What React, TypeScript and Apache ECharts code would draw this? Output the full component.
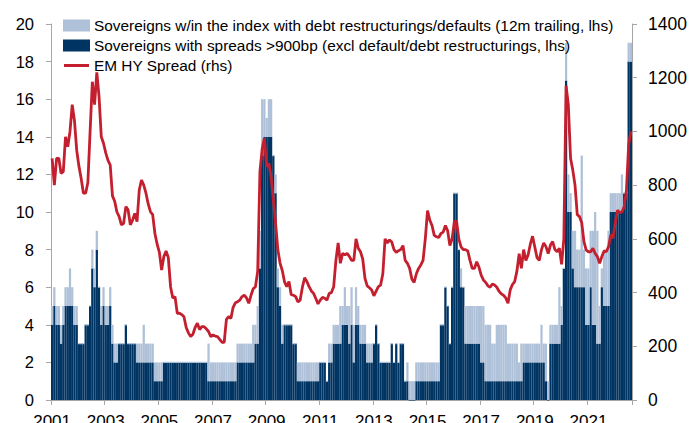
import React, { useEffect, useRef } from "react";
import * as echarts from "echarts";

// Monthly data, Jan 2001 – Aug 2022
const startYear = 2001;

// Sovereigns with spreads >900bp (excl default/debt restructurings), lhs
const spread900Count: number[] = [
  4, 5, 4, 4, 3, 4, 5, 5, 5, 5, 4, 4, // 2001
  3, 3, 3, 4, 4, 5, 7, 6, 8, 6, 4, 5, // 2002
  4, 4, 5, 3, 2, 2, 3, 3, 3, 4, 3, 3, // 2003
  3, 3, 2, 2, 2, 2, 2, 2, 2, 2, 1, 1, // 2004
  1, 1, 2, 2, 2, 2, 2, 2, 2, 2, 2, 2, // 2005
  2, 2, 2, 2, 2, 2, 2, 2, 2, 2, 1, 1, // 2006
  1, 1, 1, 1, 1, 1, 1, 1, 1, 1, 1, 2, // 2007
  2, 2, 2, 2, 2, 2, 2, 3, 3, 7, 13, 14, // 2008
  14, 14, 14, 13, 11, 6, 5, 3, 4, 4, 4, 4, // 2009
  3, 3, 1, 1, 1, 1, 1, 1, 1, 1, 1, 1, // 2010
  2, 2, 2, 1, 2, 2, 3, 3, 3, 3, 4, 4, // 2011
  4, 3, 4, 2, 4, 4, 3, 3, 3, 2, 2, 2, // 2012
  3, 4, 3, 2, 2, 2, 2, 2, 3, 2, 3, 2, // 2013
  3, 3, 1, 1, 0, 0, 0, 1, 1, 1, 1, 1, // 2014
  1, 1, 1, 1, 1, 1, 4, 4, 6, 5, 3, 6, // 2015
  11, 11, 8, 6, 6, 3, 3, 3, 3, 3, 3, 3, // 2016
  2, 2, 1, 1, 1, 1, 1, 1, 1, 1, 1, 1, // 2017
  1, 1, 1, 1, 1, 1, 1, 2, 2, 2, 2, 2, // 2018
  2, 2, 2, 2, 2, 1, 0, 3, 3, 3, 3, 3, // 2019
  4, 7, 17, 10, 10, 7, 6, 6, 6, 6, 6, 4, // 2020
  4, 6, 4, 4, 3, 3, 6, 5, 5, 5, 10, 10, // 2021
  10, 10, 10, 10, 11, 11, 18, 18, // 2022
];

// Sovereigns w/in the index with debt restructurings/defaults (12m trailing), stacked on top, lhs
const defaultCount: number[] = [
  1, 1, 1, 1, 1, 1, 1, 1, 2, 1, 1, 1, // 2001
  0, 0, 0, 0, 0, 0, 1, 1, 1, 0, 1, 1, // 2002
  1, 1, 1, 1, 1, 1, 0, 0, 0, 0, 0, 0, // 2003
  0, 0, 1, 1, 1, 2, 1, 1, 1, 1, 1, 1, // 2004
  1, 1, 0, 0, 0, 0, 0, 0, 0, 0, 0, 0, // 2005
  0, 0, 0, 0, 0, 0, 0, 0, 0, 0, 2, 1, // 2006
  1, 1, 1, 1, 1, 1, 1, 1, 1, 1, 1, 1, // 2007
  1, 1, 1, 1, 1, 1, 2, 1, 2, 2, 3, 2, // 2008
  1, 2, 2, 0, 1, 1, 1, 1, 0, 0, 0, 0, // 2009
  0, 0, 1, 1, 1, 1, 1, 1, 1, 1, 1, 1, // 2010
  0, 0, 0, 0, 1, 1, 1, 1, 1, 2, 1, 2, // 2011
  1, 2, 2, 2, 2, 1, 1, 1, 1, 1, 1, 1, // 2012
  0, 0, 0, 0, 0, 0, 0, 0, 0, 0, 0, 0, // 2013
  0, 0, 0, 1, 1, 1, 1, 1, 1, 1, 1, 1, // 2014
  1, 1, 1, 1, 1, 1, 0, 0, 0, 0, 0, 0, // 2015
  0, 0, 0, 1, 0, 2, 2, 2, 2, 2, 2, 2, // 2016
  3, 3, 3, 3, 3, 2, 2, 3, 3, 3, 3, 3, // 2017
  2, 2, 2, 2, 2, 1, 2, 1, 1, 1, 1, 1, // 2018
  1, 1, 1, 2, 1, 2, 1, 1, 1, 1, 1, 3, // 2019
  1, 0, 2, 2, 1, 2, 3, 2, 2, 7, 2, 3, // 2020
  3, 3, 5, 6, 6, 2, 1, 3, 3, 4, 1, 1, // 2021
  1, 1, 1, 2, 0, 0, 1, 1, // 2022
];

// EM HY spread (bp), rhs
const emHySpread: number[] = [
  900, 800, 900, 900, 844, 850, 980, 943, 1000, 1100, 1040, 930, // 2001
  870, 825, 770, 770, 810, 1000, 1185, 1100, 1220, 1130, 980, 956, // 2002
  920, 892, 875, 760, 740, 700, 683, 652, 658, 720, 708, 652, // 2003
  670, 695, 664, 782, 819, 800, 770, 730, 701, 690, 620, 580, // 2004
  550, 484, 534, 555, 530, 422, 380, 385, 323, 323, 318, 310, // 2005
  270, 250, 236, 245, 270, 286, 262, 273, 273, 265, 255, 236, // 2006
  242, 238, 236, 226, 215, 215, 300, 310, 304, 345, 362, 366, // 2007
  372, 385, 390, 380, 360, 390, 414, 422, 480, 850, 935, 975, // 2008
  869, 881, 830, 745, 660, 560, 510, 482, 440, 422, 441, 392, // 2009
  390, 385, 365, 372, 420, 455, 441, 422, 406, 397, 378, 358, // 2010
  372, 382, 379, 372, 397, 400, 422, 520, 585, 509, 546, 540, // 2011
  546, 535, 520, 520, 600, 565, 552, 525, 453, 425, 418, 410, // 2012
  388, 405, 422, 428, 470, 600, 585, 596, 588, 560, 550, 556, // 2013
  560, 575, 520, 509, 490, 450, 438, 470, 490, 503, 520, 600, // 2014
  705, 670, 650, 613, 608, 605, 620, 625, 650, 630, 575, 600, // 2015
  665, 665, 600, 570, 560, 560, 555, 520, 490, 490, 515, 495, // 2016
  465, 447, 438, 425, 420, 432, 428, 420, 405, 395, 390, 380, // 2017
  360, 410, 430, 441, 480, 545, 490, 560, 520, 540, 580, 610, // 2018
  570, 530, 520, 560, 585, 571, 545, 577, 590, 560, 552, 565, // 2019
  505, 600, 1170, 1100, 900, 856, 800, 690, 683, 660, 590, 558, // 2020
  552, 552, 565, 546, 534, 509, 534, 555, 552, 571, 615, 602, // 2021
  660, 707, 698, 700, 720, 780, 950, 1000, // 2022
];

const seriesNames = [
  "Sovereigns w/in the index with debt restructurings/defaults (12m trailing, lhs)",
  "Sovereigns with spreads >900bp (excl default/debt restructurings, lhs)",
  "EM HY Spread (rhs)",
];

const months: string[] = emHySpread.map((_, i) => {
  const y = startYear + Math.floor(i / 12);
  const m = (i % 12) + 1;
  return `${y}-${m < 10 ? "0" + m : m}`;
});

const LIGHT = "#afc1d8";
const DARK = "#003462";
const RED = "#c41f2e";
const AXIS = "#a6a6a6";
const FONT = "'Liberation Sans', Arial, sans-serif";

export default function App() {
  const ref = useRef<HTMLDivElement>(null);
  useEffect(() => {
    document.body.style.margin = "0";
    if (!ref.current) return;
    const chart = echarts.init(ref.current, null, { renderer: "svg" });
    const every2y = (idx: number) => idx % 24 === 0;
    chart.setOption({
      animation: false,
      backgroundColor: "#ffffff",
      textStyle: { fontFamily: FONT },
      grid: {
        left: 51,
        right: 57,
        top: 24,
        bottom: 23,
        containLabel: false,
        outerBoundsMode: "none",
      },
      legend: {
        orient: "vertical",
        left: 58,
        top: 12,
        itemWidth: 25,
        itemHeight: 10,
        itemGap: 3,
        textStyle: { fontFamily: FONT, fontSize: 15.4, color: "#000", lineHeight: 17 },
        data: [
          { name: seriesNames[0], icon: "rect" },
          { name: seriesNames[1], icon: "rect" },
          { name: seriesNames[2], icon: "path://M0,0 H25 V3 H0 Z" },
        ],
      },
      xAxis: {
        type: "category",
        data: months,
        boundaryGap: true,
        axisLine: { lineStyle: { color: AXIS, width: 1 } },
        axisTick: { show: true, interval: every2y, length: 5, lineStyle: { color: AXIS } },
        axisLabel: {
          interval: every2y,
          formatter: (v: string) => v.slice(0, 4),
          fontSize: 17,
          color: "#000",
          fontFamily: FONT,
          margin: 13,
        },
        splitLine: { show: false },
      },
      yAxis: [
        {
          type: "value",
          min: 0,
          max: 20,
          interval: 2,
          axisLine: { show: true, lineStyle: { color: AXIS } },
          axisTick: { show: true, length: 5, lineStyle: { color: AXIS } },
          axisLabel: { fontSize: 16.5, color: "#000", fontFamily: FONT, margin: 17 },
          splitLine: { show: false },
        },
        {
          type: "value",
          min: 0,
          max: 1400,
          interval: 200,
          position: "right",
          axisLine: { show: true, lineStyle: { color: AXIS } },
          axisTick: { show: true, length: 5, lineStyle: { color: AXIS } },
          axisLabel: {
            fontSize: 17.5,
            color: "#000",
            fontFamily: FONT,
            margin: 16,
            formatter: (v: number) => String(v),
          },
          splitLine: { show: false },
        },
      ],
      series: [
        {
          name: seriesNames[1],
          type: "bar",
          stack: "sov",
          data: spread900Count,
          barCategoryGap: "0%",
          itemStyle: { color: DARK, borderColor: DARK, borderWidth: 1.2 },
          yAxisIndex: 0,
        },
        {
          name: seriesNames[0],
          type: "bar",
          stack: "sov",
          data: defaultCount,
          barCategoryGap: "0%",
          itemStyle: { color: LIGHT, borderColor: LIGHT, borderWidth: 1.2 },
          yAxisIndex: 0,
        },
        {
          name: seriesNames[2],
          type: "line",
          data: emHySpread,
          yAxisIndex: 1,
          symbol: "none",
          lineStyle: { color: RED, width: 2.8 },
          itemStyle: { color: RED },
          z: 5,
        },
      ],
    });
    return () => chart.dispose();
  }, []);
  return (
    <div
      ref={ref}
      style={{ position: "fixed", left: 0, top: 0, width: 689, height: 423 }}
    />
  );
}
